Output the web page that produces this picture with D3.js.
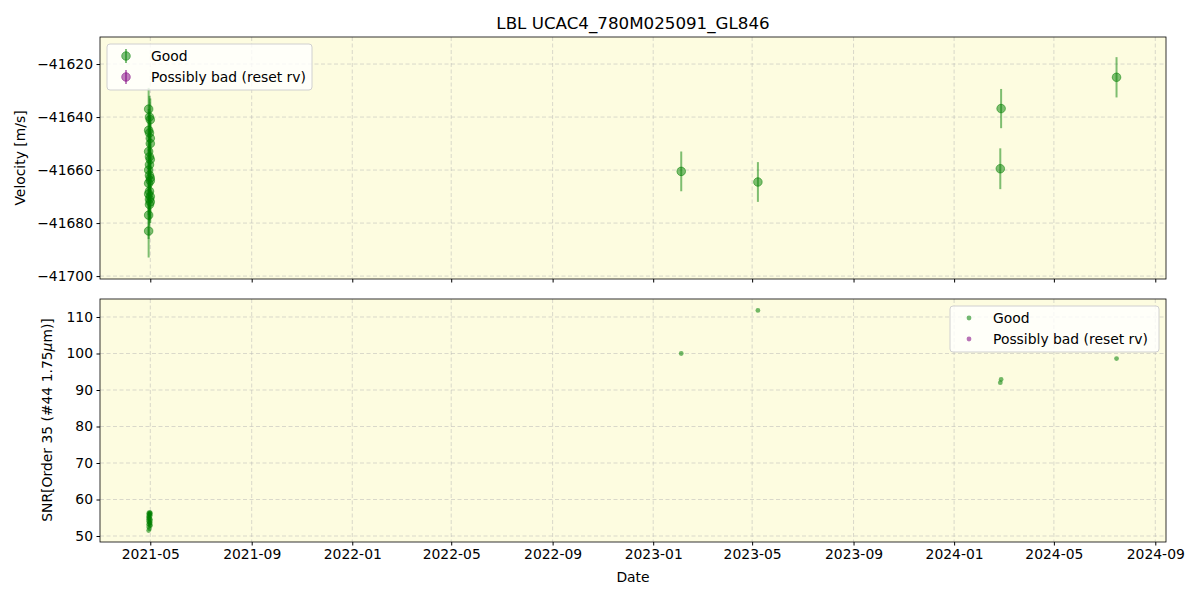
<!DOCTYPE html>
<html><head><meta charset="utf-8">
<script src="https://cdn.jsdelivr.net/npm/d3@7"></script>
<style>body{margin:0;background:#fff;font-family:"DejaVu Sans",sans-serif}</style>
</head><body><svg id="c" width="1200" height="600"></svg>
<script>
const dates = ["2021-04-29","2021-04-29","2021-04-29","2021-04-29","2021-04-29","2021-04-29","2021-04-29","2021-04-29",
  "2021-04-30","2021-04-30","2021-04-30","2021-04-30","2021-04-30","2021-04-30","2021-04-30","2021-04-30",
  "2021-05-01","2021-05-01","2021-05-01","2021-05-01","2021-05-01","2021-05-01","2021-05-01","2021-05-01",
  "2023-02-04","2023-05-08","2024-02-26","2024-02-27","2024-07-16"];
const velocity = [-41637,-41645,-41653,-41660,-41665,-41669,-41677,-41683,
  -41640,-41646,-41655,-41658,-41662,-41668,-41671,-41673,
  -41641,-41648,-41650,-41656,-41663,-41664,-41670,-41672,
  -41660.5,-41664.5,-41659.5,-41636.8,-41625];
const velErr = [8,8,8,8,8,8,9,10, 8,8,8,8,8,8,8,8, 8,8,8,8,8,8,8,8, 7.5,7.5,7.7,7.4,7.6];
const snr = [54.5,55.5,53.2,56.2,51.5,54.0,52.5,55.0,
  56.5,53.8,55.8,52.0,54.8,56.0,53.5,55.2,
  54.2,56.3,53.0,55.6,52.8,54.6,56.1,53.6,
  100.0,111.8,92.0,92.9,98.6];
const yTicksV = [-41700,-41680,-41660,-41640,-41620];
const yTicksS = [50,60,70,80,90,100,110];
const xTicks = ["2021-05-01","2021-09-01","2022-01-01","2022-05-01","2022-09-01","2023-01-01","2023-05-01","2023-09-01","2024-01-01","2024-05-01","2024-09-01"];

const parse = d3.utcParse("%Y-%m-%d");
const fmt = d3.utcFormat("%Y-%m");
const svg = d3.select("#c");
const L=100, R=1166;
const FS = 13.9;
const x = d3.scaleUtc().domain([parse("2021-03-01"), parse("2024-09-14")]).range([L,R]);
const yV = d3.scaleLinear().domain([-41701.1,-41609.8]).range([279,37]);
const yS = d3.scaleLinear().domain([48.36,114.93]).range([542,299]);
const bg = "#fdfce0";
const green = "green";

function panel(y, top, bottom, ticks, showX){
  svg.append("rect").attr("x",L).attr("y",top).attr("width",R-L).attr("height",bottom-top).attr("fill",bg);
  const g = svg.append("g");
  xTicks.forEach(t=>{
    g.append("line").attr("x1",x(parse(t))).attr("x2",x(parse(t))).attr("y1",top).attr("y2",bottom)
      .attr("stroke","#b0b0b0").attr("stroke-opacity",0.6).attr("stroke-dasharray","4,2.5").attr("stroke-width",0.8);
  });
  ticks.forEach(t=>{
    g.append("line").attr("x1",L).attr("x2",R).attr("y1",y(t)).attr("y2",y(t))
      .attr("stroke","#b0b0b0").attr("stroke-opacity",0.6).attr("stroke-dasharray","4,2.5").attr("stroke-width",0.8);
  });
  const ax = svg.append("g").attr("transform",`translate(${L},0)`).call(d3.axisLeft(y).tickValues(ticks).tickSize(3.5).tickPadding(3.5).tickFormat(d=> d<0 ? "\u2212"+Math.abs(d) : d));
  ax.select(".domain").remove();
  ax.selectAll("text").attr("font-size",FS).attr("font-family","DejaVu Sans").attr("fill","#000");
  const bx = svg.append("g").attr("transform",`translate(0,${bottom})`).call(d3.axisBottom(x).tickValues(xTicks.map(parse)).tickSize(3.5).tickPadding(3.5).tickFormat(showX?fmt:""));
  bx.select(".domain").remove();
  bx.selectAll("text").attr("font-size",FS).attr("font-family","DejaVu Sans").attr("fill","#000");
  return g;
}
function frame(top,bottom){
  svg.append("rect").attr("x",L).attr("y",top).attr("width",R-L).attr("height",bottom-top).attr("fill","none").attr("stroke","#000").attr("stroke-width",0.8);
}

// top panel
panel(yV,37,279,yTicksV,false);
const gt = svg.append("g");
dates.forEach((d,i)=>{
  const cx = x(parse(d));
  gt.append("line").attr("x1",cx).attr("x2",cx).attr("y1",yV(velocity[i]+velErr[i])).attr("y2",yV(velocity[i]-velErr[i]))
    .attr("stroke",green).attr("stroke-opacity",0.5).attr("stroke-width",2);
});
dates.forEach((d,i)=>{
  gt.append("circle").attr("cx",x(parse(d))).attr("cy",yV(velocity[i])).attr("r",4.3)
    .attr("fill",green).attr("fill-opacity",0.5).attr("stroke",green).attr("stroke-opacity",0.5).attr("stroke-width",1);
});
frame(37,279);

// bottom panel
panel(yS,299,542,yTicksS,true);
const gb = svg.append("g");
dates.forEach((d,i)=>{
  gb.append("circle").attr("cx",x(parse(d))).attr("cy",yS(snr[i])).attr("r",2.4).attr("fill",green).attr("fill-opacity",0.55);
});
frame(299,542);

// legends
function legend(x0,y0,w,err){
  svg.append("rect").attr("x",x0).attr("y",y0).attr("width",w).attr("height",46).attr("rx",3)
    .attr("fill","#fff").attr("fill-opacity",0.8).attr("stroke","#d0d0d0").attr("stroke-width",1);
  [["Good","green"],["Possibly bad (reset rv)","purple"]].forEach(([lab,c],k)=>{
    const yy = y0+12+k*21;
    if(err){
      svg.append("line").attr("x1",x0+19).attr("x2",x0+19).attr("y1",yy-7).attr("y2",yy+7).attr("stroke",c).attr("stroke-opacity",0.5).attr("stroke-width",2);
      svg.append("circle").attr("cx",x0+19).attr("cy",yy).attr("r",4.3).attr("fill",c).attr("fill-opacity",0.5).attr("stroke",c).attr("stroke-opacity",0.5);
      svg.append("text").attr("x",x0+44).attr("y",yy+5).text(lab).attr("font-size",FS).attr("font-family","DejaVu Sans");
    } else {
      svg.append("circle").attr("cx",x0+19).attr("cy",yy).attr("r",2.4).attr("fill",c).attr("fill-opacity",0.55);
      svg.append("text").attr("x",x0+43).attr("y",yy+5).text(lab).attr("font-size",FS).attr("font-family","DejaVu Sans");
    }
  });
}
legend(107,44,205,true);
legend(950,306,209,false);

// titles
svg.append("text").attr("x",633).attr("y",29).attr("text-anchor","middle").attr("font-size",16.7).attr("font-family","DejaVu Sans").text("LBL UCAC4_780M025091_GL846");
svg.append("text").attr("x",633).attr("y",582).attr("text-anchor","middle").attr("font-size",FS).attr("font-family","DejaVu Sans").text("Date");
svg.append("text").attr("transform","translate(25,158) rotate(-90)").attr("text-anchor","middle").attr("font-size",FS).attr("font-family","DejaVu Sans").text("Velocity [m/s]");
const t2 = svg.append("text").attr("transform","translate(52,420) rotate(-90)").attr("text-anchor","middle").attr("font-size",FS).attr("font-family","DejaVu Sans");
t2.append("tspan").text("SNR[Order 35 (#44 1.75");
t2.append("tspan").attr("font-style","italic").text("\u03bc");
t2.append("tspan").text("m)]");
</script></body></html>
